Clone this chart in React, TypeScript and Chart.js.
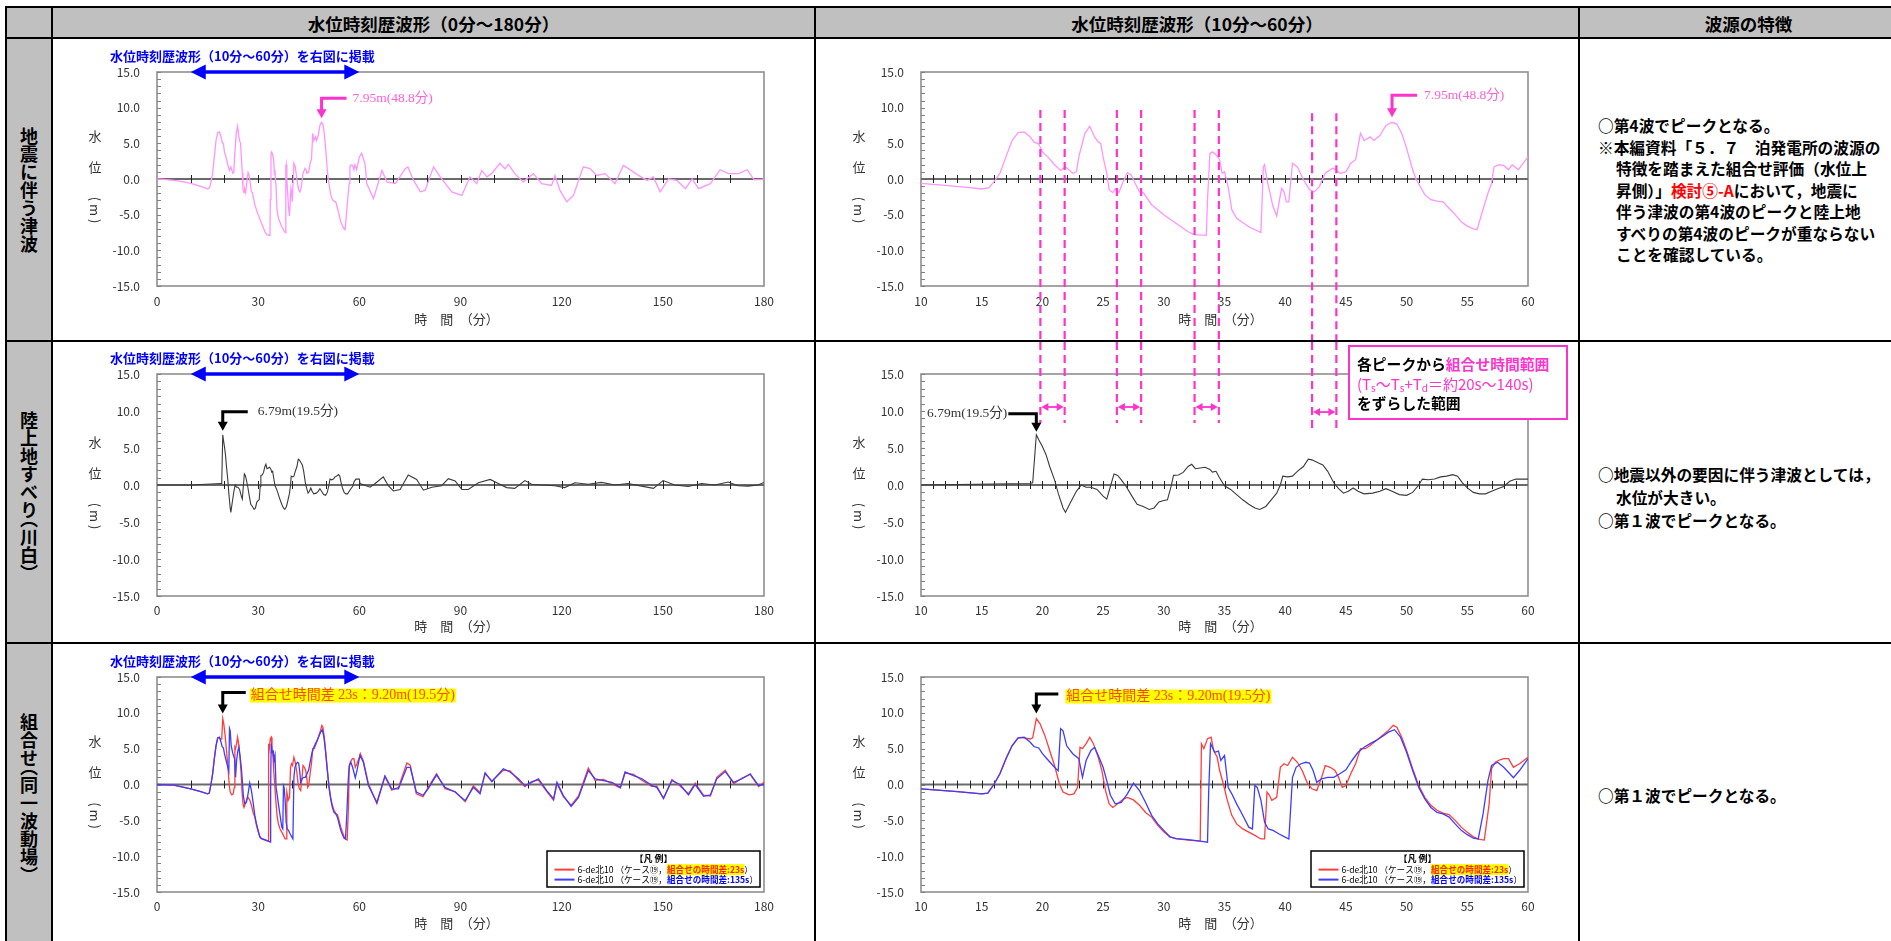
import React, { useEffect, useRef } from "react";
import { Chart, registerables } from "chart.js";

Chart.register(...registerables);

type Pt = [number, number];

// ---------------- data ----------------
const fullRangeTicks = [0, 30, 60, 90, 120, 150, 180];
const zoomRangeTicks = [10, 15, 20, 25, 30, 35, 40, 45, 50, 55, 60];
const levelTicks = [-15, -10, -5, 0, 5, 10, 15];
const zoomWindow = [10, 60];

// 地震に伴う津波 (minutes, m)
const quakeWave: Pt[] = [
  [0, 0], [2, -0.05], [5, -0.2], [8, -0.4], [10, -0.6], [12, -0.9], [14, -1.2], [15, -1.4], [15.6, -1.2], [16, -0.4],
  [16.5, 0.8], [17, 3.1], [17.5, 5.4], [18, 6.5], [18.5, 6.6], [19, 5.9], [19.3, 5.2], [19.7, 4.9], [20, 3.8], [20.5, 3.0],
  [21, 2.0], [21.5, 1.2], [21.9, 1.7], [22.5, 0.8], [22.8, 1.0], [23, 3.1], [23.5, 6.4], [23.9, 7.4], [24.3, 5.9], [24.6, 5.2],
  [24.8, 5.0], [25, 3.1], [25.3, 0.8], [25.5, -1.5], [25.8, -1.9], [26, -1.4], [26.3, -1.9], [26.6, -0.6], [27, 0.9], [27.3, 0.6],
  [27.7, -0.8], [28, -1.8], [28.3, -1.9], [29, -3.6], [30, -5.0], [31, -6.2], [32, -7.4], [32.5, -7.8], [33.5, -7.9], [33.6, -2.9],
  [33.8, 3.6], [34, 3.8], [34.3, 3.4], [34.6, 2.7], [34.8, 0.8], [35, 1.0], [35.3, -1.1], [35.6, -4.3], [36, -5.5], [37, -6.7],
  [38, -7.5], [38.2, 1.7], [38.3, 2.0], [38.5, -0.1], [39, -3.9], [39.3, -5.2], [39.7, -1.3], [39.9, -1.8], [40.1, -3.2], [40.3, -3.2],
  [40.6, 2.2], [41, 1.7], [41.5, -0.1], [42, -1.5], [42.4, -1.8], [42.8, -1.1], [43.3, 0.8], [43.9, 1.5], [44.2, 1.3], [44.5, 0.8],
  [45, 1.0], [45.4, 2.2], [45.8, 2.7], [46.2, 6.4], [46.5, 5.4], [47, 5.9], [47.3, 5.4], [47.8, 6.1], [48.3, 7.5], [48.8, 7.95],
  [49.2, 7.7], [49.6, 6.4], [50, 4.3], [50.5, 1.3], [50.8, -0.1], [51.5, -2.2], [52, -2.9], [52.5, -3.1], [53, -3.2], [53.5, -4.1],
  [54, -5.0], [54.5, -6.0], [55, -6.6], [55.5, -7.0], [55.8, -7.1], [56.2, -4.8], [56.7, -2.0], [57, -0.6], [57.2, 1.7], [57.6, 2.0],
  [58, 1.9], [58.4, 1.3], [58.7, 2.0], [59.2, 1.3], [59.6, 2.2], [60, 3.1], [60.7, 3.6], [61.7, 2.1], [62.2, -0.65], [64.2, -2.75],
  [66.7, 1.2], [68.2, -0.4], [70.7, -0.65], [73.6, 1.45], [74.4, 1.7], [76.1, -0.2], [78.1, -1.8], [79.5, -1.6], [82, 1.7], [84, 0.3],
  [87.4, -1.8], [90.4, -2.3], [92.8, 0.3], [94.8, -0.65], [96.3, 1.2], [97.8, 0.3], [99.2, 0.75], [101.7, 2.2], [103.2, 1.45], [104.2, 2.05],
  [106.1, 0.75], [108.6, -0.4], [111.6, 0.75], [114.1, -0.65], [117, -0.9], [118, 0.5], [119.5, -1.6], [121.5, -3.2], [123.5, -2.3], [126.4, 1.7],
  [128.4, 1.45], [130.4, 0.5], [132.9, 0.75], [135.8, -0.65], [138.3, 1.9], [139.8, 1.45], [142.8, 0.5], [145.3, -0.2], [147.2, 0.3], [149.2, -1.8],
  [151.7, 0], [154.2, -0.2], [156.7, -1.35], [158.7, 0], [160.6, -1.35], [164.1, -0.65], [167, 1.3], [169.5, 0.75], [172.5, 0.75], [175, 1.3],
  [177, -0.1], [179, -0.1], [180, 0],
];

// 陸上地すべり（川白）
const landslideWave: Pt[] = [
  [0, 0], [10, 0], [19, 0.2], [19.2, 0.3], [19.5, 6.79], [19.7, 6.1], [20, 5.2], [20.3, 4.1], [20.6, 2.5], [21, 0.7],
  [21.3, -1.1], [21.7, -3.1], [21.9, -3.7], [22.3, -2.4], [22.8, -0.85], [23.2, 0], [23.6, -0.3], [24, -0.3], [24.5, -0.6], [25, -1.5],
  [25.3, -1.9], [25.6, -0.2], [25.9, 1.5], [26.2, 1.3], [26.5, 0.7], [26.9, -0.2], [27.3, -1.3], [27.8, -2.6], [28.3, -2.9], [28.8, -3.3],
  [29.2, -3.1], [29.6, -2.3], [30, -2.1], [30.3, -2.0], [30.6, -0.2], [30.8, 1.3], [31.2, 1.35], [31.6, 1.7], [32, 2.5], [32.3, 2.8],
  [32.6, 2.2], [33, 2.3], [33.4, 2.4], [33.8, 2.1], [34, 1.75], [34.3, 1.85], [34.6, 0.95], [35, -0.1], [35.5, -0.6], [36, -1.3],
  [36.5, -2.0], [37, -2.6], [37.5, -3.1], [37.9, -3.3], [38.4, -2.9], [38.9, -1.9], [39.3, -1.1], [39.6, 0], [39.8, 1.2], [40.2, 1.1],
  [40.6, 1.2], [41, 1.85], [41.5, 2.5], [41.9, 3.5], [42.2, 3.4], [42.7, 3.0], [43.1, 2.7], [43.5, 1.85], [44, 0.3], [44.4, -0.5],
  [44.8, -1.1], [45.2, -0.85], [45.6, -0.4], [46, -0.85], [46.5, -1.2], [47.2, -1.1], [47.8, -0.85], [48.3, -0.5], [48.8, -0.85], [49.4, -1.3],
  [50, -1.4], [50.5, -1.0], [51, 0], [51.3, 0.8], [51.8, 0.7], [52.3, 0.8], [52.8, 1.1], [53.3, 1.2], [53.8, 1.4], [54.2, 1.2],
  [54.6, 0.3], [55, -0.4], [55.5, -1.0], [56, -1.2], [56.5, -1.2], [57, -0.85], [57.5, -0.5], [58, -0.2], [58.5, 0.5], [59, 0.8],
  [60, 0.8], [60.2, 0.2], [63.2, -0.3], [64.7, 0.2], [67.1, 1.1], [68.6, -0.1], [70.1, -0.8], [72.1, -0.6], [74.5, 1.35], [77, 0.75],
  [79, -0.7], [81.5, -0.3], [84.4, -0.1], [86.4, 0.85], [88.4, 0.55], [90.4, -0.6], [92.3, -0.6], [95.3, 0.3], [98.8, 0.75], [101.2, 0.2],
  [103.7, -0.35], [106.1, -0.45], [109.1, 0.6], [111.1, 0.1], [114, 0], [118, -0.1], [120.9, -0.35], [123.9, 0.3], [127.9, 0.1], [131.8, 0.35],
  [135.8, 0], [139.7, 0.2], [143.7, -0.15], [147.2, -0.45], [150.1, 0.6], [153.5, 0], [157.5, -0.2], [161.5, 0.2], [165.4, 0], [169.4, 0.4],
  [172.3, -0.1], [175.3, -0.15], [178.2, 0], [180, 0.35],
];

// 組合せ 時間差 23s
const combinedLag23s: Pt[] = [
  [0, 0], [5, -0.1], [10, -0.6], [13, -1.0], [15, -1.3], [15.5, -1.2], [16, 0], [16.5, 1.5], [17, 3.6], [17.5, 5.4],
  [18, 6.5], [18.5, 6.5], [19, 6.35], [19.2, 6.5], [19.5, 9.2], [19.8, 8.5], [20.2, 6.85], [20.6, 4.75], [21, 2.65], [21.4, 0.1],
  [21.7, -1.05], [22.2, -1.45], [22.6, -1.3], [22.9, -0.4], [23.1, 5.2], [23.3, 5.0], [23.6, 5.7], [23.9, 6.6], [24.2, 5.7], [24.6, 3.8],
  [24.9, 1.95], [25.2, -0.85], [25.5, -2.7], [25.8, -3.2], [26.2, -2.7], [26.7, -2.0], [27, -1.8], [27.5, -2.15], [28, -2.9], [28.5, -3.9],
  [29, -4.55], [29.5, -5.7], [30, -6.6], [30.5, -7.3], [31, -7.55], [32, -7.75], [33, -7.9], [33.1, 5.7], [33.3, 5.0], [33.6, 6.4],
  [33.9, 6.6], [34.1, 4.75], [34.4, 3.8], [34.6, 1.95], [34.9, 0.1], [35.2, -2.0], [35.6, -4.3], [36, -5.5], [36.5, -6.2], [37, -6.65],
  [37.5, -7.1], [38, -7.6], [38.3, -7.6], [38.5, -1.05], [38.7, -1.5], [38.9, -2.2], [39.3, -1.8], [39.6, 2.4], [39.9, 2.9], [40.2, 2.65],
  [40.6, 3.8], [41, 3.1], [41.4, 1.95], [41.8, 0.3], [42.2, -0.6], [42.6, -0.85], [43, 1.0], [43.3, 2.65], [43.7, 2.4], [44.1, 1.95],
  [44.4, 1.0], [44.7, -0.4], [45, -0.15], [45.4, 1.5], [45.8, 2.9], [46.2, 5.0], [46.6, 5.0], [47, 5.45], [47.5, 6.15], [48, 6.85],
  [48.5, 7.55], [48.9, 8.25], [49.2, 8.0], [49.6, 6.6], [50, 4.75], [50.5, 2.2], [51, -0.15], [51.5, -1.8], [52, -2.9], [52.5, -3.6],
  [53, -4.0], [53.5, -4.2], [54, -5.0], [54.5, -5.95], [55, -6.65], [55.5, -7.3], [56, -7.65], [56.4, -7.75], [56.8, -2.7], [57, 2.2],
  [57.3, 3.1], [57.7, 3.45], [58, 3.6], [58.4, 3.6], [58.8, 2.4], [59.3, 2.9], [60, 3.8], [60.3, 4.3], [61.2, 3.3], [62.7, 0.1],
  [65.2, -2.65], [67.6, 1.1], [69.6, -0.8], [71.6, -0.4], [74.1, 3.0], [75.1, 2.7], [76.9, -1.3], [78.9, -1.7], [80.4, -0.4], [82.9, 1.5],
  [85.4, -0.6], [88.4, -1.0], [91.4, -2.4], [93.8, -0.2], [95.8, -1.1], [97.3, 1.5], [99.3, 0.5], [102.7, 2.0], [104.7, 1.9], [107.2, 0.6],
  [109.1, -0.3], [111.1, 0.4], [113.1, 0.6], [115.6, -1.0], [117.6, -2.2], [118.6, 0.1], [120.5, -1.7], [122.8, -2.9], [125, -1.6], [127.9, 2.3],
  [129.9, 0.6], [132.4, 0.7], [134.9, 0.1], [137.4, -0.5], [138.8, 1.6], [141.3, 1.4], [143.8, 0.6], [146.8, -0.3], [148.2, -0.2], [150.2, -2.0],
  [152.7, 0.7], [155.1, -0.2], [157.6, -1.3], [159.6, 0.2], [162.1, -1.5], [164.1, -1.6], [166, 1.0], [168.5, 2.0], [171, 0.1], [173.5, 0.9],
  [175.9, 1.4], [178.4, -0.3], [180, 0.3],
];

// 組合せ 時間差 135s
const combinedLag135s: Pt[] = [
  [0, 0], [5, -0.1], [10, -0.6], [13, -1.0], [15, -1.3], [15.5, -1.2], [16, 0], [16.5, 1.5], [17, 3.6], [17.5, 5.4],
  [18, 6.5], [18.5, 6.6], [19, 5.9], [19.3, 5.3], [19.7, 5.1], [20, 4.3], [20.5, 3.35], [21, 2.4], [21.3, 1.9], [21.5, 7.8],
  [21.7, 7.5], [22, 5.4], [22.5, 4.3], [23, 3.6], [23.3, 1.0], [23.6, 3.35], [24, 4.75], [24.3, 5.2], [24.6, 4.05], [25, 2.4],
  [25.3, 0.55], [25.6, -1.5], [26, -2.7], [26.5, -2.5], [27, -1.3], [27.5, 0.2], [28, -0.85], [28.5, -2.5], [29, -4.3], [29.5, -5.5],
  [30, -6.4], [30.5, -7.3], [31, -7.55], [32, -7.7], [33, -7.9], [33.6, -8.05], [33.7, -0.8], [33.85, 5.7], [34.2, 4.5], [34.5, 4.65],
  [34.7, 3.35], [35, 4.05], [35.3, -0.4], [35.6, -1.3], [36, -2.7], [36.5, -4.3], [37, -5.95], [37.3, -6.2], [37.5, -0.15], [37.7, -0.4],
  [38, -2.2], [38.3, -5.25], [38.6, -6.2], [39, -6.4], [39.5, -6.9], [40, -7.35], [40.3, -7.6], [40.6, 1.0], [40.9, 2.4], [41.3, 2.9],
  [41.7, 3.1], [42, 3.0], [42.3, 1.95], [42.6, 0.3], [43, 0.8], [43.5, 1.0], [44, 1.0], [44.5, 1.5], [45, 2.05], [45.5, 3.35],
  [46, 4.5], [46.5, 5.2], [47, 5.7], [47.5, 6.15], [48, 6.7], [48.5, 7.3], [49, 7.65], [49.5, 6.6], [50, 4.5], [50.5, 1.95],
  [51, -0.4], [51.5, -2.0], [52, -3.2], [52.5, -3.9], [53, -4.1], [53.5, -4.55], [54, -5.5], [54.5, -6.4], [55, -7.0], [55.5, -7.5],
  [55.9, -7.6], [56.3, -4.1], [56.7, 0.55], [57, 2.65], [57.5, 3.1], [58, 2.4], [58.5, 1.5], [58.8, 0.95], [59.3, 1.95], [60, 3.6],
  [60.2, 4.05], [61.2, 3.1], [62.7, -0.15], [65.2, -2.5], [67.6, 1.2], [69.6, -0.6], [71.6, -0.6], [74.1, 2.4], [75.1, 2.4], [76.9, -1.05],
  [78.9, -1.5], [80.4, -0.6], [82.9, 1.35], [85.4, -0.4], [88.4, -1.05], [91.4, -2.25], [93.8, -0.4], [95.8, -1.3], [97.3, 1.65], [99.3, 0.4],
  [102.7, 2.2], [104.7, 1.75], [107.2, 0.8], [109.1, -0.15], [111.1, 0.3], [113.1, 0.8], [115.6, -0.85], [117.6, -2.0], [118.6, 0.3], [120.5, -1.55],
  [122.8, -3.05], [125, -1.8], [127.9, 1.95], [129.9, 0.8], [132.4, 0.55], [134.9, 0.3], [137.4, -0.4], [138.8, 1.75], [141.3, 1.25], [143.8, 0.8],
  [146.8, -0.15], [148.2, -0.4], [150.2, -1.9], [152.7, 0.55], [155.1, 0], [157.6, -1.45], [159.6, 0], [162.1, -1.65], [164.1, -1.45], [166, 0.8],
  [168.5, 1.8], [171, 0.3], [173.5, 0.8], [175.9, 1.5], [178.4, -0.15], [180, 0],
];

const quakePeak: Pt = [48.8, 7.95];
const landslidePeak: Pt = [19.5, 6.79];
const combinedPeak: Pt = [19.5, 9.2];
const landslidePeakTimes = [19.5, 25.8, 32.2, 41.88];
const combineShiftSec = [20, 140];

const quakePeakLabel = "7.95m(48.8分)";
const landslidePeakLabel = "6.79m(19.5分)";
const combinedPeakLabel = "組合せ時間差 23s：9.20m(19.5分)";
const zoomNote = "水位時刻歴波形（10分～60分）を右図に掲載";
const legendTitle = "【凡 例】";
const legendName = "6-de北10 （ケース⑲，";
const legendLags = ["組合せの時間差:23s", "組合せの時間差:135s"];

const headers = ["水位時刻歴波形（0分～180分）", "水位時刻歴波形（10分～60分）", "波源の特徴"];

// ---------------- styling helpers ----------------
const JP = '"Noto Sans CJK JP", "Noto Sans", sans-serif';
const SERIF = '"Liberation Serif", "Noto Sans CJK JP", serif';
const MAG = "#ff33cc";
const PINK_LINE = "#ff94ff";
const RED = "#ff3d3d";
const BLUE = "#3d3dff";

function seg(ctx: any, x1: number, y1: number, x2: number, y2: number) {
  ctx.beginPath();
  ctx.moveTo(x1, y1);
  ctx.lineTo(x2, y2);
  ctx.stroke();
}

function tri(ctx: any, pts: number[]) {
  ctx.beginPath();
  ctx.moveTo(pts[0], pts[1]);
  ctx.lineTo(pts[2], pts[3]);
  ctx.lineTo(pts[4], pts[5]);
  ctx.closePath();
  ctx.fill();
}

function peakArrow(chart: any, peak: Pt, o: any) {
  const { ctx, scales } = chart;
  const px = scales.x.getPixelForValue(peak[0]);
  const py = scales.y.getPixelForValue(peak[1]);
  const ey = py - o.dy;
  ctx.save();
  ctx.strokeStyle = o.color;
  ctx.fillStyle = o.color;
  ctx.lineWidth = 3;
  ctx.lineJoin = "miter";
  ctx.beginPath();
  ctx.moveTo(o.side === "right" ? px + o.hx : px - o.hx, ey);
  ctx.lineTo(px, ey);
  ctx.lineTo(px, py - o.gap - 8);
  ctx.stroke();
  tri(ctx, [px - 5, py - o.gap - 9, px + 5, py - o.gap - 9, px, py - o.gap]);
  ctx.font = o.font;
  ctx.textBaseline = "middle";
  ctx.textAlign = "left";
  const tw = ctx.measureText(o.text).width;
  const tx = o.side === "right" ? px + o.hx + o.textGap : px - o.hx - o.textGap - tw;
  const ty = ey + (o.textDy || 0);
  if (o.bg) {
    ctx.fillStyle = o.bg;
    ctx.fillRect(tx - 1, ty - 7, tw + 2, 14);
  }
  ctx.fillStyle = o.textColor;
  ctx.fillText(o.text, tx, ty);
  ctx.restore();
}

function zoomRangeNote(chart: any) {
  const { ctx, chartArea: a, scales } = chart;
  const x1 = scales.x.getPixelForValue(zoomWindow[0]);
  const x2 = scales.x.getPixelForValue(zoomWindow[1]);
  const yy = a.top;
  ctx.save();
  ctx.strokeStyle = "#0000ff";
  ctx.fillStyle = "#0000ff";
  ctx.lineWidth = 3.5;
  seg(ctx, x1 + 10, yy, x2 - 10, yy);
  tri(ctx, [x1, yy, x1 + 15, yy - 7.5, x1 + 15, yy + 7.5]);
  tri(ctx, [x2, yy, x2 - 15, yy - 7.5, x2 - 15, yy + 7.5]);
  ctx.font = `bold 13px ${JP}`;
  ctx.textBaseline = "middle";
  ctx.textAlign = "left";
  ctx.fillText(zoomNote, a.left - 47, a.top - 16);
  ctx.restore();
}

function shiftLines(chart: any, mode: "upper" | "lower") {
  const { ctx, scales, height } = chart;
  const { x, y } = scales;
  ctx.save();
  ctx.strokeStyle = MAG;
  ctx.fillStyle = MAG;
  landslidePeakTimes.forEach((t, i) => {
    const last = i === landslidePeakTimes.length - 1;
    const y1 = mode === "upper" ? y.getPixelForValue(last ? 9.2 : 9.67) : 0;
    const y2 = mode === "upper" ? height : y.getPixelForValue(last ? 7.57 : 8.38);
    const xs = combineShiftSec.map((s) => x.getPixelForValue(t + s / 60));
    ctx.lineWidth = 2.2;
    ctx.setLineDash([8, 5]);
    xs.forEach((px) => seg(ctx, px, y1, px, y2));
    ctx.setLineDash([]);
    if (mode === "lower") {
      const ay = y.getPixelForValue(last ? 9.86 : 10.54);
      ctx.lineWidth = 1.8;
      seg(ctx, xs[0] + 3, ay, xs[1] - 3, ay);
      tri(ctx, [xs[0] + 1, ay, xs[0] + 8, ay - 4, xs[0] + 8, ay + 4]);
      tri(ctx, [xs[1] - 1, ay, xs[1] - 8, ay - 4, xs[1] - 8, ay + 4]);
    }
  });
  ctx.restore();
}

function parts(ctx: any, x: number, y: number, list: any[]) {
  let cx = x;
  list.forEach((p) => {
    ctx.font = p.f;
    const w = ctx.measureText(p.t).width;
    if (p.bg) {
      ctx.fillStyle = p.bg;
      ctx.fillRect(cx, y - 5.5, w, 11);
    }
    ctx.fillStyle = p.c;
    ctx.fillText(p.t, cx, y + (p.dy || 0));
    cx += w;
  });
}

function infoBox(chart: any) {
  const { ctx, chartArea: a } = chart;
  const bx = a.right - 179;
  const by = a.top - 28;
  ctx.save();
  ctx.fillStyle = "#ffffff";
  ctx.fillRect(bx, by, 218, 73);
  ctx.strokeStyle = MAG;
  ctx.lineWidth = 2;
  ctx.strokeRect(bx, by, 218, 73);
  ctx.textBaseline = "middle";
  ctx.textAlign = "left";
  const b = `bold 14.8px ${JP}`;
  const n = `15px ${JP}`;
  const sub = `10px ${JP}`;
  parts(ctx, bx + 8, by + 18.5, [
    { t: "各ピークから", f: b, c: "#000" },
    { t: "組合せ時間範囲", f: b, c: MAG },
  ]);
  parts(ctx, bx + 8, by + 38.5, [
    { t: "(T", f: n, c: MAG },
    { t: "s", f: sub, c: MAG, dy: 4 },
    { t: "～T", f: n, c: MAG },
    { t: "s", f: sub, c: MAG, dy: 4 },
    { t: "+T", f: n, c: MAG },
    { t: "d", f: sub, c: MAG, dy: 4 },
    { t: "＝約20s～140s)", f: n, c: MAG },
  ]);
  parts(ctx, bx + 8, by + 57, [{ t: "をずらした範囲", f: b, c: "#000" }]);
  ctx.restore();
}

function legendBox(chart: any) {
  const { ctx, chartArea: a } = chart;
  const w = 213;
  const h = 36;
  const bx = a.right - 4 - w;
  const by = a.bottom - 5 - h;
  ctx.save();
  ctx.fillStyle = "#fff";
  ctx.fillRect(bx, by, w, h);
  ctx.strokeStyle = "#000";
  ctx.lineWidth = 1.5;
  ctx.strokeRect(bx, by, w, h);
  ctx.textBaseline = "middle";
  ctx.textAlign = "center";
  ctx.fillStyle = "#000";
  ctx.font = `bold 9px ${JP}`;
  ctx.fillText(legendTitle, bx + w / 2, by + 8);
  ctx.textAlign = "left";
  const cols = [RED, BLUE];
  legendLags.forEach((lag, i) => {
    const ly = by + 18.6 + i * 10;
    ctx.strokeStyle = cols[i];
    ctx.lineWidth = 2;
    seg(ctx, bx + 7.5, ly, bx + 27.5, ly);
    parts(ctx, bx + 30.5, ly, [
      { t: legendName, f: `8.6px ${JP}`, c: "#000" },
      i === 0
        ? { t: lag, f: `bold 8.6px ${JP}`, c: "#ff2200", bg: "#ffff00" }
        : { t: lag, f: `bold 8.6px ${JP}`, c: "#0000ff" },
      { t: "）", f: `8.6px ${JP}`, c: "#000" },
    ]);
  });
  ctx.restore();
}

// ---------------- chart builder ----------------
function decoPlugin(c: any) {
  return {
    id: "deco",
    beforeDatasetsDraw(chart: any) {
      const { ctx, chartArea: a, scales } = chart;
      const { x, y } = scales;
      ctx.save();
      ctx.strokeStyle = "#8f8f8f";
      ctx.lineWidth = 1.6;
      ctx.strokeRect(a.left, a.top, a.right - a.left, a.bottom - a.top);
      ctx.strokeStyle = "#808080";
      ctx.lineWidth = 1;
      for (let v = -15; v <= 15; v++) {
        const py = Math.round(y.getPixelForValue(v)) + 0.5;
        seg(ctx, a.left, py, a.left + 4, py);
      }
      const y0 = y.getPixelForValue(0);
      ctx.strokeStyle = "#6a6a6a";
      ctx.lineWidth = 2;
      seg(ctx, a.left, y0, a.right, y0);
      ctx.strokeStyle = "#222";
      ctx.lineWidth = 1;
      for (let k = 1; c.xMin + k * c.xMinor < c.xMax; k++) {
        const px = Math.round(x.getPixelForValue(c.xMin + k * c.xMinor)) + 0.5;
        seg(ctx, px, y0 - 4, px, y0 + 4);
      }
      ctx.restore();
    },
    afterDraw(chart: any) {
      const { ctx, chartArea: a, scales } = chart;
      const y0 = scales.y.getPixelForValue(0);
      ctx.save();
      ctx.fillStyle = "#333";
      ctx.font = `13px ${JP}`;
      ctx.textAlign = "center";
      ctx.textBaseline = "middle";
      const tx = a.left - 62;
      ctx.fillText("水", tx, y0 - 43);
      ctx.fillText("位", tx, y0 - 12);
      ctx.save();
      ctx.translate(tx, y0 + 31);
      ctx.rotate(Math.PI / 2);
      ctx.fillText("( m )", 0, 0);
      ctx.restore();
      ctx.fillText("時　間　（分）", (a.left + a.right) / 2 - 4, a.bottom + c.xTitleDy);
      ctx.restore();
      c.annotate(chart);
    },
  };
}

function buildConfig(c: any) {
  const tickFont = { family: JP, size: 12 };
  return {
    type: "line",
    data: {
      datasets: c.series.map((s: any, i: number) => ({
        data: s.data.map((p: Pt) => ({ x: p[0], y: p[1] })),
        borderColor: s.color,
        borderWidth: s.width,
        pointRadius: 0,
        tension: 0,
        fill: false,
        order: s.order ?? i,
      })),
    },
    options: {
      responsive: false,
      animation: false,
      devicePixelRatio: 1,
      events: [],
      layout: { padding: { left: 0, top: c.plotTop, right: c.width - c.plotRight, bottom: 0 } },
      plugins: { legend: { display: false }, tooltip: { enabled: false } },
      scales: {
        x: {
          type: "linear",
          min: c.xMin,
          max: c.xMax,
          afterBuildTicks: (s: any) => {
            s.ticks = c.xTicks.map((v: number) => ({ value: v }));
          },
          afterFit: (s: any) => {
            s.height = c.height - c.plotBottom;
          },
          grid: { display: false, drawTicks: false },
          border: { display: false },
          ticks: {
            font: tickFont,
            color: "#333",
            padding: c.xLabelPad,
            maxRotation: 0,
            autoSkip: false,
            callback: (v: any) => String(v),
          },
        },
        y: {
          type: "linear",
          min: -15,
          max: 15,
          afterBuildTicks: (s: any) => {
            s.ticks = levelTicks.map((v) => ({ value: v }));
          },
          afterFit: (s: any) => {
            s.width = c.plotLeft;
          },
          grid: { display: false, drawTicks: false },
          border: { display: false },
          ticks: {
            font: tickFont,
            color: "#333",
            padding: 17,
            callback: (v: any) => Number(v).toFixed(1),
          },
        },
      },
    },
    plugins: [decoPlugin(c)],
  };
}

function WaveChart({ spec }: { spec: any }) {
  const ref = useRef<HTMLCanvasElement | null>(null);
  useEffect(() => {
    const chart = new Chart(ref.current as HTMLCanvasElement, buildConfig(spec) as any);
    return () => chart.destroy();
  }, []);
  return (
    <canvas
      ref={ref}
      width={spec.width}
      height={spec.height}
      style={{ position: "absolute", left: spec.left, top: spec.top, width: spec.width, height: spec.height }}
    />
  );
}

// ---------------- layout ----------------
const COL = [
  { left: 53, width: 761, plotLeft: 104, plotRight: 711 },
  { left: 816, width: 762, plotLeft: 105, plotRight: 712 },
];
const ROW = [
  { top: 39, height: 301, plotTop: 33, plotBottom: 247, xLabelPad: 8.5, xTitleDy: 33 },
  { top: 342, height: 300, plotTop: 32, plotBottom: 254, xLabelPad: 7, xTitleDy: 30 },
  { top: 644, height: 300, plotTop: 33, plotBottom: 248, xLabelPad: 7, xTitleDy: 31 },
];

const wide = { xMin: 0, xMax: 180, xTicks: fullRangeTicks, xMinor: 10 };
const narrow = { xMin: zoomWindow[0], xMax: zoomWindow[1], xTicks: zoomRangeTicks, xMinor: 1 };

const quakeSeries = [{ data: quakeWave, color: PINK_LINE, width: 1.3 }];
const slideSeries = [{ data: landslideWave, color: "#3a3a3a", width: 1.1 }];
const comboSeries = [
  { data: combinedLag23s, color: RED, width: 1.3, order: 2 },
  { data: combinedLag135s, color: BLUE, width: 1.3, order: 1 },
];

const serifFont = `13.5px ${SERIF}`;

const specs = [
  {
    ...COL[0], ...ROW[0], ...wide, series: quakeSeries,
    annotate: (ch: any) => {
      zoomRangeNote(ch);
      peakArrow(ch, quakePeak, { side: "right", dy: 24, hx: 25, gap: 4, textGap: 6, color: MAG, textColor: "#ff5fd7", text: quakePeakLabel, font: serifFont });
    },
  },
  {
    ...COL[1], ...ROW[0], ...narrow, series: quakeSeries,
    annotate: (ch: any) => {
      shiftLines(ch, "upper");
      peakArrow(ch, quakePeak, { side: "right", dy: 27, hx: 25, gap: 5, textGap: 7, color: MAG, textColor: "#ff5fd7", text: quakePeakLabel, font: serifFont });
    },
  },
  {
    ...COL[0], ...ROW[1], ...wide, series: slideSeries,
    annotate: (ch: any) => {
      zoomRangeNote(ch);
      peakArrow(ch, landslidePeak, { side: "right", dy: 23, hx: 25, gap: 4, textGap: 10, color: "#000", textColor: "#333", text: landslidePeakLabel, font: serifFont });
    },
  },
  {
    ...COL[1], ...ROW[1], ...narrow, series: slideSeries,
    annotate: (ch: any) => {
      shiftLines(ch, "lower");
      infoBox(ch);
      peakArrow(ch, landslidePeak, { side: "left", dy: 21, hx: 28, gap: 3, textGap: 1, color: "#000", textColor: "#333", text: landslidePeakLabel, font: serifFont });
    },
  },
  {
    ...COL[0], ...ROW[2], ...wide, series: comboSeries,
    annotate: (ch: any) => {
      zoomRangeNote(ch);
      peakArrow(ch, combinedPeak, { side: "right", dy: 26, hx: 23, gap: 5, textGap: 5, textDy: 3, color: "#000", textColor: "#ff4a00", bg: "#ffff00", text: combinedPeakLabel, font: `14px ${SERIF}` });
      legendBox(ch);
    },
  },
  {
    ...COL[1], ...ROW[2], ...narrow, series: comboSeries,
    annotate: (ch: any) => {
      peakArrow(ch, combinedPeak, { side: "right", dy: 24.5, hx: 22, gap: 5, textGap: 8, textDy: 2.5, color: "#000", textColor: "#ff4a00", bg: "#ffff00", text: combinedPeakLabel, font: `14px ${SERIF}` });
      legendBox(ch);
    },
  },
];

function Paren({ ch }: { ch: string }) {
  return <span style={{ fontFeatureSettings: '"vhal"' }}>{ch}</span>;
}

function VLabel({ top, height, children }: any) {
  return (
    <div style={{ position: "absolute", left: 7, top, width: 44, height, display: "flex", alignItems: "center", justifyContent: "center" }}>
      <div style={{ writingMode: "vertical-rl", fontWeight: 700, fontSize: 18, lineHeight: 1, fontFamily: JP, color: "#000" }}>{children}</div>
    </div>
  );
}

const noteBase: any = {
  position: "absolute",
  left: 1598,
  fontFamily: JP,
  fontWeight: 700,
  fontSize: 15.7,
  whiteSpace: "nowrap",
  color: "#000",
};

function NoteLines({ top, lh, lines }: any) {
  return (
    <div style={{ ...noteBase, top, lineHeight: `${lh}px` }}>
      {lines.map((l: any, i: number) => (
        <div key={i} style={{ paddingLeft: l.indent ? 18 : 0 }}>{l.content}</div>
      ))}
    </div>
  );
}

export default function App() {
  const hLine = (y: number) => <div key={`h${y}`} style={{ position: "absolute", left: 5, top: y, width: 1920, height: 2, background: "#000" }} />;
  const vLine = (x: number) => <div key={`v${x}`} style={{ position: "absolute", left: x, top: 6, width: 2, height: 960, background: "#000" }} />;
  return (
    <div style={{ position: "absolute", left: 0, top: 0, width: 1891, height: 941, overflow: "hidden", background: "#fff", fontFamily: JP }}>
      {/* gray fills */}
      <div style={{ position: "absolute", left: 7, top: 8, width: 1920, height: 29, background: "#c0c0c0" }} />
      <div style={{ position: "absolute", left: 7, top: 8, width: 44, height: 950, background: "#c0c0c0" }} />
      {/* headers */}
      {[
        { left: 53, width: 761 },
        { left: 816, width: 762 },
        { left: 1580, width: 337 },
      ].map((c, i) => (
        <div key={i} style={{ position: "absolute", left: c.left, top: 8, width: c.width, height: 29, display: "flex", alignItems: "center", justifyContent: "center", fontWeight: 700, fontSize: 17.5, color: "#000", paddingTop: 2, boxSizing: "border-box" }}>
          {headers[i]}
        </div>
      ))}
      {/* row labels */}
      <VLabel top={39} height={301}>地震に伴う津波</VLabel>
      <VLabel top={342} height={300}>陸上地すべり<Paren ch="（" />川白<Paren ch="）" /></VLabel>
      <VLabel top={644} height={300}>組合せ<Paren ch="（" />同一波動場<Paren ch="）" /></VLabel>
      {/* charts */}
      {specs.map((s, i) => (
        <WaveChart key={i} spec={s} />
      ))}
      {/* notes */}
      <NoteLines
        top={115}
        lh={21.5}
        lines={[
          { content: "○第4波でピークとなる。" },
          { content: "※本編資料「５．７　泊発電所の波源の" },
          { indent: true, content: "特徴を踏まえた組合せ評価（水位上" },
          { indent: true, content: <>昇側）」<span style={{ color: "#ff0000" }}>検討⑤-A</span>において，地震に</> },
          { indent: true, content: "伴う津波の第4波のピークと陸上地" },
          { indent: true, content: "すべりの第4波のピークが重ならない" },
          { indent: true, content: "ことを確認している。" },
        ]}
      />
      <NoteLines
        top={463}
        lh={23}
        lines={[
          { content: "○地震以外の要因に伴う津波としては，" },
          { indent: true, content: "水位が大きい。" },
          { content: "○第１波でピークとなる。" },
        ]}
      />
      <NoteLines top={784} lh={23} lines={[{ content: "○第１波でピークとなる。" }]} />
      {/* table borders */}
      {[6, 37, 340, 642].map(hLine)}
      {[5, 51, 814, 1578].map(vLine)}
    </div>
  );
}
